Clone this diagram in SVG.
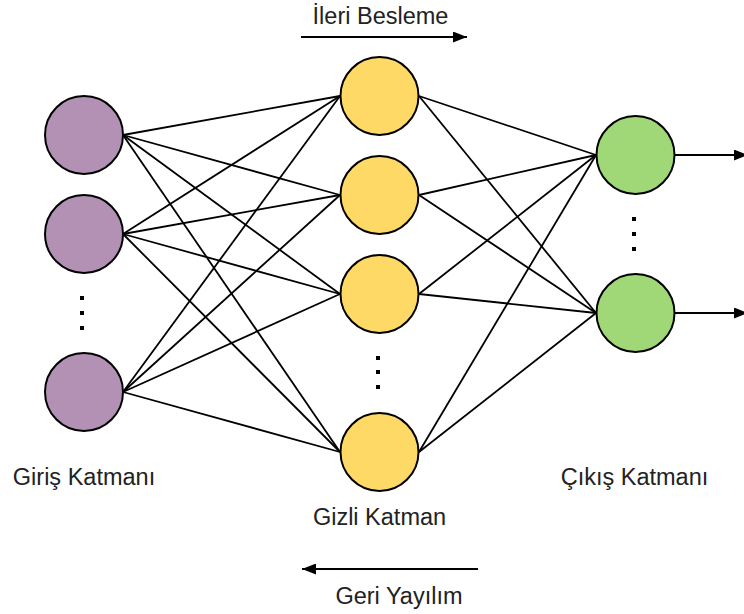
<svg xmlns="http://www.w3.org/2000/svg" width="744" height="614" viewBox="0 0 744 614">
<defs>
<marker id="ah" viewBox="0 0 14 11" refX="14" refY="5.5" markerWidth="14" markerHeight="11" markerUnits="userSpaceOnUse" orient="auto">
<path d="M0,0 L14,5.5 L0,11 Z" fill="#000"/>
</marker>
</defs>
<style>
.in{fill:#B291B5;stroke:#000;stroke-width:2}
.hid{fill:#FFD966;stroke:#000;stroke-width:2}
.out{fill:#A0D878;stroke:#000;stroke-width:2}
.c line{stroke:#000;stroke-width:1.8}
.arr{stroke:#000;stroke-width:2;marker-end:url(#ah)}
.lbl{font-family:"Liberation Sans",Arial,sans-serif;font-size:23.5px;fill:#222;text-anchor:middle}
.dot{fill:#000}
</style>
<rect width="744" height="614" fill="#fff"/>
<g id="connectors" class="c">
<line x1="123" y1="135" x2="340" y2="96"/>
<line x1="123" y1="135" x2="340" y2="195"/>
<line x1="123" y1="135" x2="340" y2="294"/>
<line x1="123" y1="135" x2="340" y2="452"/>
<line x1="123" y1="234" x2="340" y2="96"/>
<line x1="123" y1="234" x2="340" y2="195"/>
<line x1="123" y1="234" x2="340" y2="294"/>
<line x1="123" y1="234" x2="340" y2="452"/>
<line x1="123" y1="392" x2="340" y2="96"/>
<line x1="123" y1="392" x2="340" y2="195"/>
<line x1="123" y1="392" x2="340" y2="294"/>
<line x1="123" y1="392" x2="340" y2="452"/>
<line x1="419" y1="96" x2="596" y2="155"/>
<line x1="419" y1="96" x2="596" y2="313"/>
<line x1="419" y1="195" x2="596" y2="155"/>
<line x1="419" y1="195" x2="596" y2="313"/>
<line x1="419" y1="294" x2="596" y2="155"/>
<line x1="419" y1="294" x2="596" y2="313"/>
<line x1="419" y1="452" x2="596" y2="155"/>
<line x1="419" y1="452" x2="596" y2="313"/>
<line class="arr" x1="675" y1="155" x2="748" y2="155"/>
<line class="arr" x1="675" y1="313" x2="748" y2="313"/>
<line class="arr" x1="301" y1="37" x2="467" y2="37"/>
<line class="arr" x1="478" y1="569" x2="302" y2="569"/>
</g>
<g id="input1"><circle class="in" cx="84" cy="135" r="39"/></g>
<g id="input2"><circle class="in" cx="84" cy="234" r="39"/></g>
<g id="input-dots"><rect class="dot" x="80" y="296" width="4" height="4"/><rect class="dot" x="80" y="311" width="4" height="4"/><rect class="dot" x="80" y="326" width="4" height="4"/></g>
<g id="input3"><circle class="in" cx="84" cy="392" r="39"/></g>
<g id="hidden1"><circle class="hid" cx="379.5" cy="96" r="39"/></g>
<g id="hidden2"><circle class="hid" cx="379.5" cy="195" r="39"/></g>
<g id="hidden3"><circle class="hid" cx="379.5" cy="294" r="39"/></g>
<g id="hidden-dots"><rect class="dot" x="376" y="356" width="4" height="4"/><rect class="dot" x="376" y="370" width="4" height="4"/><rect class="dot" x="376" y="385" width="4" height="4"/></g>
<g id="hidden4"><circle class="hid" cx="379.5" cy="452" r="39"/></g>
<g id="output1"><circle class="out" cx="635.5" cy="155" r="39"/></g>
<g id="output-dots"><rect class="dot" x="632" y="217" width="4" height="4"/><rect class="dot" x="632" y="232" width="4" height="4"/><rect class="dot" x="632" y="247" width="4" height="4"/></g>
<g id="output2"><circle class="out" cx="635.5" cy="313" r="39"/></g>
<g id="labels">
<text class="lbl" x="380.5" y="24">İleri Besleme</text>
<text class="lbl" x="84" y="485">Giriş Katmanı</text>
<text class="lbl" x="379.5" y="525">Gizli Katman</text>
<text class="lbl" x="634.5" y="485">Çıkış Katmanı</text>
<text class="lbl" x="399" y="604">Geri Yayılım</text>
</g>
</svg>
